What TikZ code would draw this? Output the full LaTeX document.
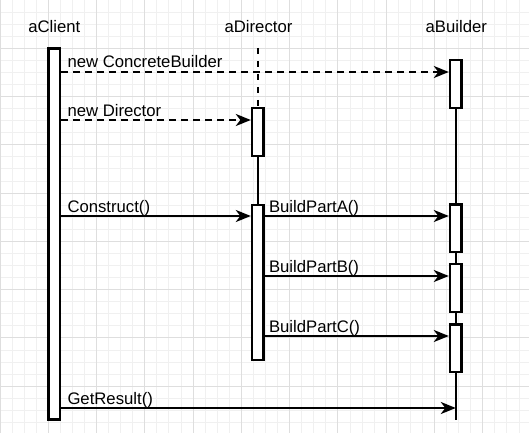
\documentclass[tikz,border=0pt]{standalone}
\usepackage{fontspec}
\setmainfont{Liberation Sans}
\usetikzlibrary{arrows.meta}
\definecolor{gminor}{HTML}{F0F0F0}
\definecolor{gmajor}{HTML}{DEDEDE}
\tikzset{
  every picture/.style={x=1pt, y=-1pt, line width=2.4pt},
  head/.style={font=\fontsize{16.7}{20}\selectfont, anchor=base, inner sep=0pt},
  bar/.style={draw, fill=white, line width=2.4pt, minimum width=11.6pt, inner sep=0pt, minimum height=#1},
  bar/.default=47.6pt,
  life/.style={line width=2.4pt},
  msg/.style={-{Stealth[length=15pt, width=12pt, inset=4.5pt]}, line width=2.4pt},
  create/.style={msg, dash pattern=on 7pt off 5pt},
  lbl/.style={font=\fontsize{16.7}{20}\selectfont, anchor=base west, inner sep=0pt, xshift=5pt, yshift=4pt},
}

\begin{document}
\begin{tikzpicture}
  \useasboundingbox (0,0) rectangle (529,433);
  \fill[white] (0,0) rectangle (529,433);
  \foreach \i in {0,...,43} \draw[gminor, line width=1pt] (\i*12.07,0) -- (\i*12.07,433);
  \foreach \i in {0,...,35} \draw[gminor, line width=1pt] (0,\i*12.07) -- (529,\i*12.07);
  \foreach \i in {0,...,10} \draw[gmajor, line width=1pt] (\i*48.28,0) -- (\i*48.28,433);
  \foreach \i in {0,...,8} \draw[gmajor, line width=1pt] (0,\i*48.28) -- (529,\i*48.28);

  \node[head] (hclient) at (54.3,33) {aClient};
  \node[head] (hdirector) at (258.5,33) {aDirector};
  \node[head] (hbuilder) at (456.3,33) {aBuilder};

  \coordinate (dtop) at (257.8,48);
  \coordinate (bend) at (455.8,420);
  \coordinate (m1) at (0,72);
  \coordinate (m2) at (0,120);
  \coordinate (m3) at (0,216);
  \coordinate (m4) at (0,276);
  \coordinate (m5) at (0,336);
  \coordinate (m6) at (0,408);

  \node[bar=370.6pt] (client) at (54.3,234) {};
  \node[bar] (dbar1) at (257.8,132) {};
  \node[bar=154.6pt] (dbar2) at (257.8,282.5) {};
  \node[bar] (bbar1) at (455.8,84) {};
  \node[bar] (bbar2) at (455.8,228.3) {};
  \node[bar] (bbar3) at (455.8,288) {};
  \node[bar] (bbar4) at (455.8,348.3) {};

  \draw[life, dash pattern=on 6pt off 7pt] (dtop) -- (dbar1.north);
  \draw[life] (dbar1.south) -- (dbar2.north);
  \draw[life] (bbar1.south) -- (bbar2.north);
  \draw[life] (bbar2.south) -- (bbar3.north);
  \draw[life] (bbar3.south) -- (bbar4.north);
  \draw[life] (bbar4.south) -- (bend);

  \draw[create] (client.east |- m1) node[lbl] {new ConcreteBuilder} -- (bbar1.west |- m1);
  \draw[create] (client.east |- m2) node[lbl] {new Director} -- (dbar1.west |- m2);
  \draw[msg] (client.east |- m3) node[lbl] {Construct()} -- (dbar2.west |- m3);
  \draw[msg] (dbar2.east |- m3) node[lbl, xshift=-2pt] {BuildPartA()} -- (bbar2.west |- m3);
  \draw[msg] (dbar2.east |- m4) node[lbl, xshift=-2pt] {BuildPartB()} -- (bbar3.west |- m4);
  \draw[msg] (dbar2.east |- m5) node[lbl, xshift=-2pt] {BuildPartC()} -- (bbar4.west |- m5);
  \draw[msg] (client.east |- m6) node[lbl] {GetResult()} -- (bend |- m6);
\end{tikzpicture}
\end{document}
